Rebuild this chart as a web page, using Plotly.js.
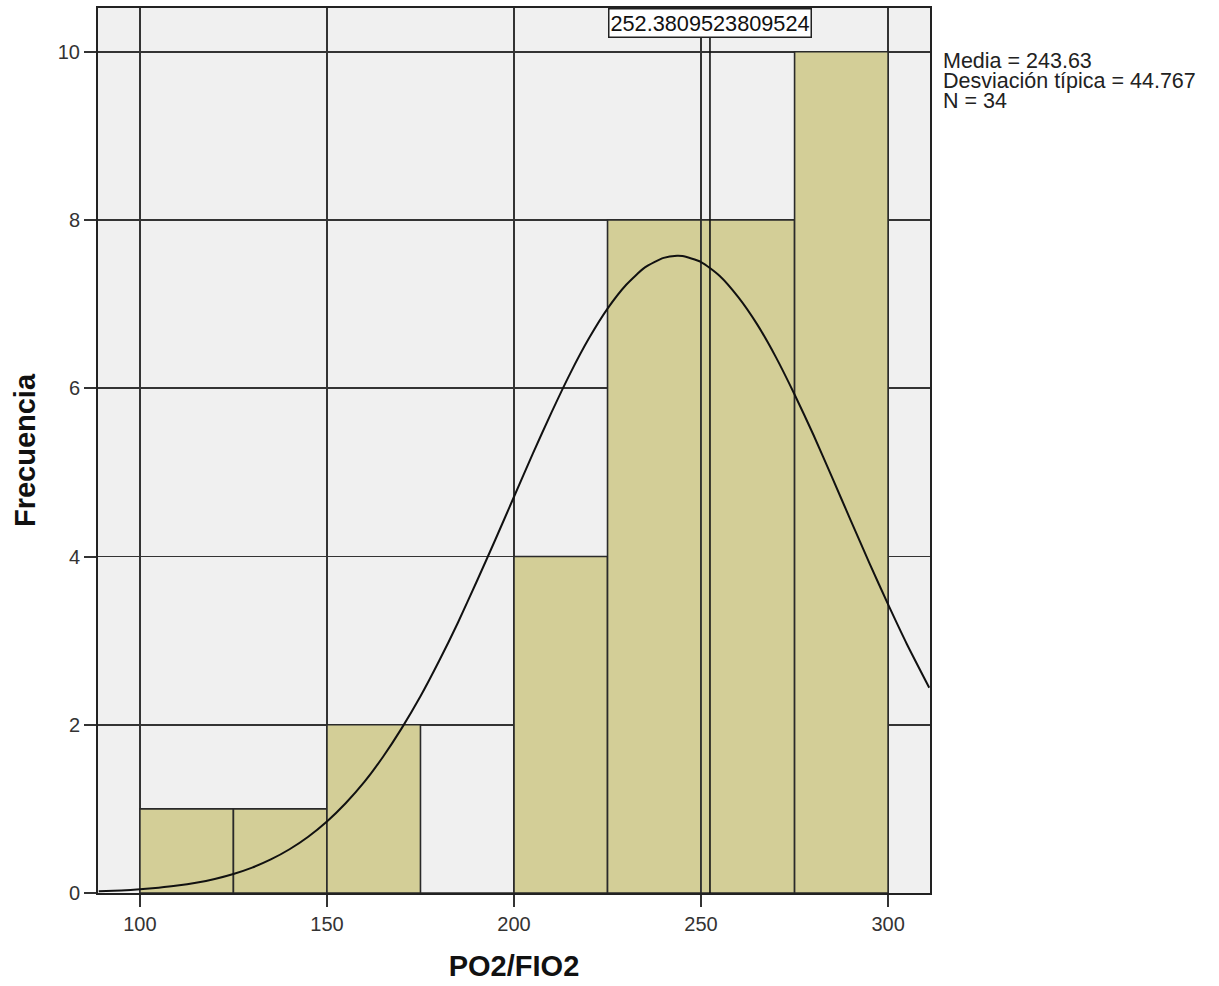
<!DOCTYPE html>
<html>
<head>
<meta charset="utf-8">
<script src="https://cdn.plot.ly/plotly-3.0.1.min.js"></script>
<style>
html,body{margin:0;padding:0;background:#fff;}
#chart{width:1219px;height:986px;}
</style>
</head>
<body>
<div id="chart"></div>
<script>
// Histogram bins (PO2/FIO2)
var binCenters = [112.5, 137.5, 162.5, 187.5, 212.5, 237.5, 262.5, 287.5];
var binCounts  = [1, 1, 2, 0, 4, 8, 8, 10];
var binWidth = 25;

// Normal curve
var curveX = [89, 95, 100, 105, 110, 115, 120, 125, 130, 135, 140, 145, 150, 155, 160, 165, 170, 175, 180, 185, 190, 195, 200, 205, 210, 215, 220, 225, 230, 235, 240, 243.6, 245, 250, 255, 260, 265, 270, 275, 280, 285, 290, 295, 300, 305, 311];
var curveY = [0.02, 0.031, 0.044, 0.063, 0.088, 0.122, 0.167, 0.226, 0.302, 0.399, 0.52, 0.669, 0.85, 1.067, 1.32, 1.62, 1.96, 2.338, 2.76, 3.213, 3.70, 4.199, 4.71, 5.221, 5.71, 6.174, 6.59, 6.946, 7.23, 7.436, 7.55, 7.575, 7.571, 7.50, 7.335, 7.08, 6.759, 6.37, 5.926, 5.45, 4.943, 4.43, 3.922, 3.43, 2.96, 2.44];

var refValue = 252.3809523809524;
var refLabel = "252.3809523809524";
var statsLines = ["Media = 243.63", "Desviación típica = 44.767", "N = 34"];

var xTicks = [100, 150, 200, 250, 300];
var yTicks = [0, 2, 4, 6, 8, 10];

var W = 1219, H = 986;
var mL = 98, mR = 289, mT = 8, mB = 93;
var plotH = H - mT - mB;
var plotW = W - mL - mR;
function py(px){ return (H - mB - px) / plotH; }
function pxx(px){ return (px - mL) / plotW; }

var font = "Liberation Sans, Arial, sans-serif";

var traces = [
  {
    type: 'bar',
    x: binCenters,
    y: binCounts,
    width: binWidth,
    marker: {color: 'rgb(211,206,151)', line: {color: '#2a2a2a', width: 1.6}},
    hoverinfo: 'x+y'
  },
  {
    type: 'scatter',
    mode: 'lines',
    x: curveX,
    y: curveY,
    line: {color: '#111', width: 2, shape: 'spline', smoothing: 0.6},
    hoverinfo: 'skip'
  }
];

var annotations = [
  {
    xref: 'x', yref: 'paper',
    x: refValue, y: py(23),
    xanchor: 'center', yanchor: 'middle',
    text: refLabel,
    showarrow: false,
    font: {family: font, size: 21.7, color: '#111'},
    bgcolor: '#ffffff',
    bordercolor: '#222',
    borderwidth: 1.5,
    borderpad: 1
  }
];
var statsY = [61, 81, 101];
for (var i = 0; i < statsLines.length; i++) {
  annotations.push({
    xref: 'paper', yref: 'paper',
    x: pxx(941), y: py(statsY[i]),
    xanchor: 'left', yanchor: 'middle',
    text: statsLines[i],
    showarrow: false,
    font: {family: font, size: 21.5, color: '#222'}
  });
}

var layout = {
  width: W, height: H,
  margin: {l: mL, r: mR, t: mT, b: mB, pad: 0},
  paper_bgcolor: '#ffffff',
  plot_bgcolor: '#f0f0f0',
  showlegend: false,
  bargap: 0,
  font: {family: font, size: 20, color: '#333'},
  xaxis: {
    range: [88.8, 311.2],
    tickvals: xTicks,
    ticktext: xTicks.map(String),
    ticks: 'outside', ticklen: 12, tickwidth: 2, tickcolor: '#333',
    showgrid: true, gridcolor: '#333', gridwidth: 1.6,
    zeroline: false,
    showline: true, linecolor: '#222', linewidth: 2, mirror: true,
    tickfont: {family: font, size: 20, color: '#333'},
    title: {text: '<b>PO2/FIO2</b>', font: {family: font, size: 29, color: '#111'}, standoff: 22},
    automargin: false,
    fixedrange: true
  },
  yaxis: {
    range: [0, 10.52],
    tickvals: yTicks,
    ticktext: yTicks.map(String),
    ticks: 'outside', ticklen: 12, tickwidth: 2, tickcolor: '#333',
    showgrid: true, gridcolor: '#333', gridwidth: 1.6,
    zeroline: false,
    showline: true, linecolor: '#222', linewidth: 2, mirror: true,
    tickfont: {family: font, size: 20, color: '#333'},
    title: {text: '<b>Frecuencia</b>', font: {family: font, size: 29, color: '#111'}, standoff: 14},
    automargin: false,
    fixedrange: true
  },
  shapes: [
    {
      type: 'line', xref: 'x', yref: 'paper',
      x0: refValue, x1: refValue, y0: 0, y1: 1,
      line: {color: '#111', width: 1.6},
      layer: 'above'
    }
  ],
  annotations: annotations
};

Plotly.newPlot('chart', traces, layout, {displayModeBar: false, staticPlot: true});
</script>
</body>
</html>
